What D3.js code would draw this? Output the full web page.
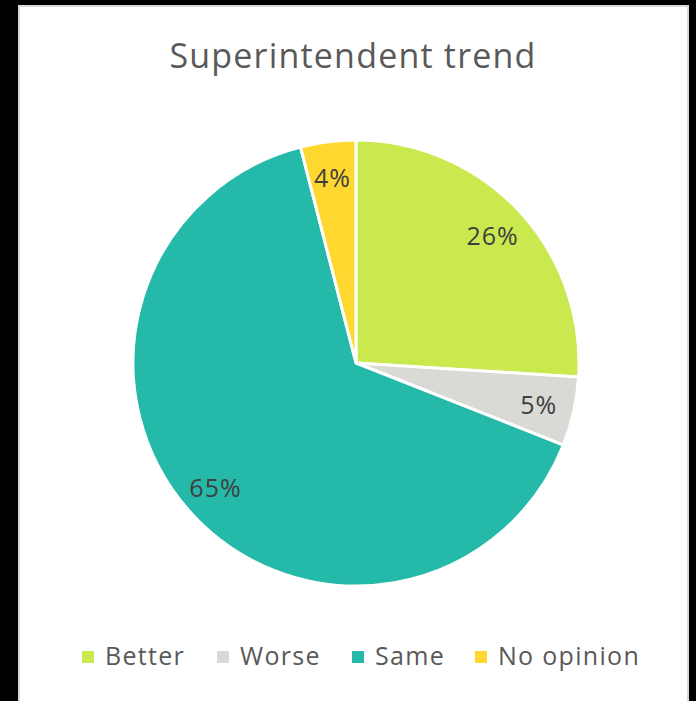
<!DOCTYPE html>
<meta charset="utf-8">
<script src="https://d3js.org/d3.v7.min.js"></script>
<style>
  body { margin: 0; background: #000; }
</style>
<div id="my_dataviz"></div>
<script>

    // data
    const categories = ["Better", "Worse", "Same", "No opinion"];
    const values = [26, 5, 65, 4];
    const colors = ["#c9e94f", "#d9d9d6", "#25b9a9", "#fed82e"];

    const width = 696, height = 701;

    const svg = d3.select("#my_dataviz")
      .append("svg")
        .attr("width", width)
        .attr("height", height)
        .style("display", "block");

    // chart panel
    svg.append("rect")
      .attr("x", 19)
      .attr("y", 6)
      .attr("width", 669)
      .attr("height", 710)
      .attr("fill", "#fff")
      .attr("stroke", "#d9d9d9")
      .attr("stroke-width", 2);

    const font = "'Open Sans', sans-serif";

    // title
    svg.append("text")
      .attr("x", 353)
      .attr("y", 68)
      .attr("text-anchor", "middle")
      .style("font-family", font)
      .style("font-size", "34px")
      .style("letter-spacing", "1.2px")
      .style("fill", "#595959")
      .text("Superintendent trend");

    const cx = 356, cy = 363, radius = 223;

    const color = d3.scaleOrdinal()
      .domain(categories)
      .range(colors);

    const pie = d3.pie()
      .sort(null)
      .value(d => d.value);

    const data = categories.map((c, i) => ({ key: c, value: values[i] }));
    const arcs = pie(data);

    const arc = d3.arc()
      .innerRadius(0)
      .outerRadius(radius);

    const labelArc = d3.arc()
      .innerRadius(radius * 0.84)
      .outerRadius(radius * 0.84);

    const g = svg.append("g")
      .attr("transform", `translate(${cx}, ${cy})`);

    g.selectAll("path")
      .data(arcs)
      .join("path")
        .attr("d", arc)
        .attr("fill", d => color(d.data.key))
        .attr("stroke", "#fff")
        .attr("stroke-width", 3)
        .attr("stroke-linejoin", "round");

    const total = d3.sum(values);
    g.selectAll("text.lbl")
      .data(arcs)
      .join("text")
        .attr("class", "lbl")
        .attr("x", d => labelArc.centroid(d)[0])
        .attr("y", d => labelArc.centroid(d)[1])
        .attr("dy", "0.4em")
        .attr("text-anchor", "middle")
        .style("font-family", font)
        .style("font-size", "25px")
        .style("letter-spacing", "1px")
        .style("fill", "#404040")
        .text(d => Math.round(d.data.value / total * 100) + "%");

    // legend
    const legendX = [82, 217, 352, 475];
    const legend = svg.append("g");
    const items = legend.selectAll("g")
      .data(categories)
      .join("g")
        .attr("transform", (d, i) => `translate(${legendX[i]}, 651)`);
    items.append("rect")
      .attr("width", 12)
      .attr("height", 12)
      .attr("fill", d => color(d));
    items.append("text")
      .attr("x", 23)
      .attr("y", 14)
      .style("font-family", font)
      .style("font-size", "25px")
      .style("letter-spacing", "1.3px")
      .style("fill", "#595959")
      .text(d => d);

</script>
